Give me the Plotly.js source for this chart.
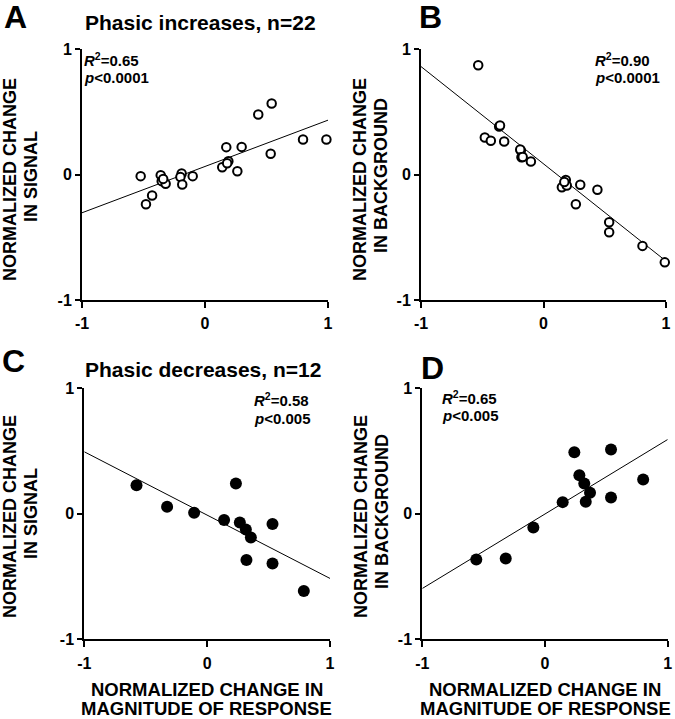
<!DOCTYPE html>
<html>
<head>
<meta charset="utf-8">
<script src="https://cdn.plot.ly/plotly-3.0.1.min.js"></script>
<style>html,body{margin:0;padding:0;background:#fff;}#chart{width:675px;height:719px;}</style>
</head>
<body>
<div id="chart"></div>
<script>
// ---- Data ----
// Panel A/B: phasic increases (n=22)
var incMagnitudeA = [-0.523,-0.36,-0.352,-0.32,-0.43,-0.48,-0.19,-0.2,-0.185,-0.10,0.14,0.19,0.173,0.263,0.298,0.433,0.542,0.534,0.797,0.987,0.18,-0.34];
var incSignal     = [-0.013,-0.005,-0.053,-0.074,-0.167,-0.237,0.008,-0.02,-0.08,-0.013,0.058,0.106,0.218,0.026,0.22,0.478,0.566,0.165,0.279,0.279,0.09,-0.035];
var incMagnitudeB = [-0.533,-0.479,-0.43,-0.362,-0.355,-0.321,-0.185,-0.19,-0.18,-0.17,-0.103,0.15,0.182,0.19,0.17,0.264,0.30,0.44,0.536,0.536,0.808,0.99];
var incBackground = [0.87,0.295,0.269,0.383,0.39,0.263,0.191,0.20,0.138,0.14,0.104,-0.101,-0.043,-0.088,-0.06,-0.237,-0.082,-0.122,-0.38,-0.46,-0.569,-0.70];
// Panel C/D: phasic decreases (n=12)
var decMagnitude  = [-0.575,-0.326,-0.106,0.138,0.234,0.266,0.315,0.356,0.32,0.532,0.532,0.787];
var decSignal     = [0.228,0.056,0.008,-0.05,0.242,-0.069,-0.125,-0.189,-0.369,-0.082,-0.396,-0.616];
var decMagnitudeD = [-0.56,-0.32,-0.095,0.144,0.239,0.28,0.32,0.367,0.332,0.538,0.538,0.80];
var decBackground = [-0.364,-0.356,-0.109,0.093,0.491,0.308,0.242,0.167,0.096,0.513,0.13,0.274];
// Regression fits (endpoints)
var fitX  = [-1, 1];
var fitA  = [-0.305, 0.433];
var fitB  = [0.86, -0.69];
var fitC  = [0.494, -0.515];
var fitD  = [-0.595, 0.592];
// Tick labels
var tickVals = [-1, 0, 1];
var tickText = ["-1", "0", "1"];
var panelTitles = ["Phasic increases, n=22", "Phasic decreases, n=12"];
var panelLetters = ["A", "B", "C", "D"];
var r2Values = ["0.65", "0.90", "0.58", "0.65"];
var pValues = ["0.0001", "0.0001", "0.005", "0.005"];

// ---- Layout helpers ----
var W = 675, H = 719;
function px(x) { return x / W; }
function py(y) { return 1 - y / H; }
var FONT = "Liberation Sans, Arial, Helvetica, sans-serif";

var open = {symbol: "circle", size: 8.5, color: "white", line: {color: "black", width: 2}};
var filled = {symbol: "circle", size: 12, color: "black", line: {width: 0}};
var fitLine = {color: "black", width: 1};

var traces = [
  {x: fitX, y: fitA, mode: "lines", line: fitLine, xaxis: "x", yaxis: "y"},
  {x: incMagnitudeA, y: incSignal, mode: "markers", marker: open, xaxis: "x", yaxis: "y", cliponaxis: false},
  {x: fitX, y: fitB, mode: "lines", line: fitLine, xaxis: "x2", yaxis: "y2"},
  {x: incMagnitudeB, y: incBackground, mode: "markers", marker: open, xaxis: "x2", yaxis: "y2", cliponaxis: false},
  {x: fitX, y: fitC, mode: "lines", line: fitLine, xaxis: "x3", yaxis: "y3"},
  {x: decMagnitude, y: decSignal, mode: "markers", marker: filled, xaxis: "x3", yaxis: "y3", cliponaxis: false},
  {x: fitX, y: fitD, mode: "lines", line: fitLine, xaxis: "x4", yaxis: "y4"},
  {x: decMagnitudeD, y: decBackground, mode: "markers", marker: filled, xaxis: "x4", yaxis: "y4", cliponaxis: false}
];

var tickFont = {family: FONT, size: 16, color: "black", weight: "bold"};
function xax(d0, d1, anchor) {
  return {domain: [px(d0), px(d1)], anchor: anchor, range: [-1, 1], showgrid: false, zeroline: false,
    showline: true, linecolor: "black", linewidth: 2, ticks: "outside", ticklen: 6, tickwidth: 2, tickcolor: "black",
    tickvals: tickVals, ticktext: tickText, tickfont: tickFont, ticklabelstandoff: 2, fixedrange: true};
}
function yax(d0, d1, anchor) {
  return {domain: [py(d1), py(d0)], anchor: anchor, range: [-1, 1], showgrid: false, zeroline: false,
    showline: true, linecolor: "black", linewidth: 2, ticks: "outside", ticklen: 5, tickwidth: 2, tickcolor: "black",
    tickvals: tickVals, ticktext: tickText, tickfont: tickFont, fixedrange: true};
}

function ann(text, x, y, size, opts) {
  var a = {text: text, xref: "paper", yref: "paper", x: px(x), y: py(y), showarrow: false,
    xanchor: "center", yanchor: "middle", font: {family: FONT, size: size, color: "black", weight: "bold"}};
  for (var k in (opts || {})) a[k] = opts[k];
  return a;
}
function r2Ann(i, x, yBottom) {
  return ann("<i>R</i><sup>2</sup>=" + r2Values[i], x, yBottom, 15, {xanchor: "left", yanchor: "bottom", borderpad: 0});
}
function pAnn(i, x, yTop) {
  return ann("<i>p</i><" + pValues[i], x, yTop, 15, {xanchor: "left", yanchor: "top", borderpad: 0});
}

var annotations = [
  ann(panelLetters[0], 15, 17, 32),
  ann(panelLetters[1], 430, 17, 32),
  ann(panelLetters[2], 13, 361, 32),
  ann(panelLetters[3], 433, 368, 32),
  ann(panelTitles[0], 200, 22, 21),
  ann(panelTitles[1], 203, 369, 21),
  // stats
  r2Ann(0, 83, 70), pAnn(0, 83, 68.5),
  r2Ann(1, 594, 70), pAnn(1, 594, 68.5),
  r2Ann(2, 253, 410), pAnn(2, 253, 408.5),
  r2Ann(3, 441, 407.5), pAnn(3, 441, 406),
  // y titles
  ann("NORMALIZED CHANGE", 10, 180, 18, {textangle: -90}),
  ann("IN SIGNAL", 31, 177, 18, {textangle: -90}),
  ann("NORMALIZED CHANGE", 360, 180, 18, {textangle: -90}),
  ann("IN BACKGROUND", 381, 176, 18, {textangle: -90}),
  ann("NORMALIZED CHANGE", 10, 517, 18, {textangle: -90}),
  ann("IN SIGNAL", 31, 514, 18, {textangle: -90}),
  ann("NORMALIZED CHANGE", 361, 517, 18, {textangle: -90}),
  ann("IN BACKGROUND", 382, 512, 18, {textangle: -90}),
  // x titles
  ann("NORMALIZED CHANGE IN", 207, 689, 18.5),
  ann("MAGNITUDE OF RESPONSE", 207, 708, 18.5),
  ann("NORMALIZED CHANGE IN", 545, 689, 18.5),
  ann("MAGNITUDE OF RESPONSE", 545, 708, 18.5)
];

var layout = {
  width: W, height: H, margin: {l: 0, r: 0, t: 0, b: 0}, showlegend: false,
  paper_bgcolor: "white", plot_bgcolor: "white", font: {family: FONT, color: "black"},
  xaxis: xax(82, 328, "y"), yaxis: yax(49, 300, "x"),
  xaxis2: xax(421, 666, "y2"), yaxis2: yax(49, 300, "x2"),
  xaxis3: xax(84.3, 330, "y3"), yaxis3: yax(388.3, 639.3, "x3"),
  xaxis4: xax(422.3, 667.7, "y4"), yaxis4: yax(388.3, 639.3, "x4"),
  annotations: annotations
};

Plotly.newPlot("chart", traces, layout, {displayModeBar: false, staticPlot: true});
</script>
</body>
</html>
